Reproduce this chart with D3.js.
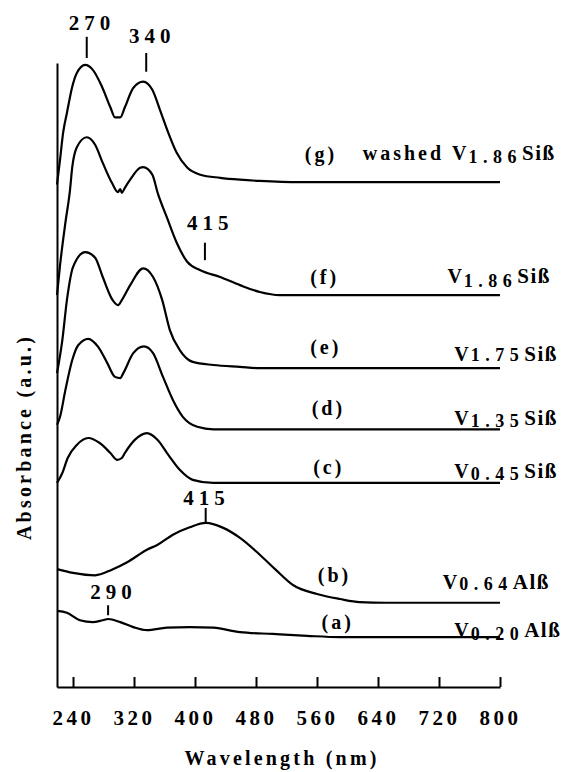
<!DOCTYPE html>
<html>
<head>
<meta charset="utf-8">
<script src="https://cdn.jsdelivr.net/npm/d3@7"></script>
<style>
  body { margin: 0; background: #fff; }
  text { font-family: "Liberation Serif", "Times New Roman", serif; font-weight: bold; fill: #000; }
</style>
</head>
<body>
<svg id="chart" width="566" height="772"></svg>
<script>
// wavelength (nm) vs absorbance (a.u., curves stacked with offsets)
const wavelengthTicks = [240, 320, 400, 480, 560, 640, 720, 800];

const specA = [[219,1.22],[232,1.19],[249,1.07],[266,1.04],[279,1.07],[286,1.09],[302,1.04],[319,0.96],[337,0.91],[363,0.95],[393,0.96],[424,0.95],[459,0.88],[502,0.85],[547,0.82],[590,0.80],[800,0.80]];
const specB = [[219,1.89],[240,1.83],[269,1.79],[291,1.88],[311,2.00],[337,2.20],[351,2.28],[371,2.44],[393,2.56],[414,2.63],[437,2.55],[459,2.39],[485,2.12],[505,1.89],[529,1.63],[560,1.49],[590,1.41],[616,1.36],[650,1.35],[800,1.35]];
const specC = [[219,3.27],[226,3.43],[233,3.67],[245,3.88],[260,3.99],[275,3.91],[289,3.75],[298,3.64],[304,3.67],[308,3.75],[321,3.96],[337,4.07],[351,3.96],[365,3.72],[380,3.48],[397,3.32],[424,3.27],[800,3.27]];
const specD = [[219,4.20],[223,4.33],[230,4.76],[239,5.24],[247,5.48],[260,5.58],[273,5.45],[285,5.19],[295,4.97],[302,4.95],[306,5.03],[319,5.35],[333,5.46],[345,5.35],[358,4.97],[371,4.60],[384,4.33],[403,4.17],[424,4.13],[800,4.13]];
const specE = [[219,5.03],[226,5.56],[232,6.20],[240,6.73],[256,6.97],[269,6.88],[279,6.57],[292,6.20],[299,6.12],[304,6.20],[315,6.44],[332,6.71],[345,6.57],[357,6.20],[367,5.72],[380,5.40],[397,5.21],[424,5.16],[459,5.13],[485,5.11],[800,5.11]];
const specF = [[219,6.28],[223,6.76],[230,7.44],[236,7.96],[239,8.33],[245,8.65],[258,8.81],[269,8.69],[279,8.40],[291,8.08],[299,7.93],[302,7.98],[304,7.92],[308,8.00],[315,8.13],[328,8.32],[332,8.33],[344,8.21],[351,7.92],[363,7.53],[376,7.12],[390,6.81],[407,6.68],[433,6.57],[459,6.44],[485,6.33],[511,6.28],[800,6.28]];
const specG = [[219,8.05],[223,8.45],[227,8.88],[232,9.20],[239,9.62],[245,9.84],[256,9.97],[266,9.89],[278,9.62],[289,9.29],[295,9.13],[302,9.13],[308,9.29],[319,9.60],[332,9.70],[344,9.57],[354,9.25],[365,8.88],[376,8.56],[390,8.32],[407,8.21],[433,8.16],[459,8.13],[485,8.11],[538,8.09],[800,8.09]];

const spectra = [specA, specB, specC, specD, specE, specF, specG];
const curveLetters = ["(a)", "(b)", "(c)", "(d)", "(e)", "(f)", "(g)"];
const samplePrefix = ["", "", "", "", "", "", "washed "];
const sampleMain = ["V", "V", "V", "V", "V", "V", "V"];
const sampleSub = ["0.20", "0.64", "0.45", "1.35", "1.75", "1.86", "1.86"];
const sampleTail = ["Alß", "Alß", "Siß", "Siß", "Siß", "Siß", "Siß"];

// peak markers
const peakLabels = ["270", "340", "415", "415", "290"];
const peakNm = [258, 336, 413, 414, 286];
const peakLabelNm = [265, 344, 420, 415, 293];
const peakTickLow = [10.08, 9.86, 6.84, 2.64, 1.15];
const peakTickHigh = [10.42, 10.16, 7.12, 2.87, 1.31];
const peakLabelAt = [10.53, 10.32, 7.32, 2.92, 1.41];

// label layout (px offsets from each curve's flat tail)
const letterNm = [566, 561, 555, 553, 551, 551, 544];
const letterDy = [-8, -21, -9, -14, -14, -11, -21];
const nameNm = [740, 725, 740, 740, 740, 731, 620];
const nameDy = [0, -14, -5, -4, -7, -12, -22];
const subShift = [3, 1, 2, 2, 0, 4, 3];

const svg = d3.select("#chart");

const x = d3.scaleLinear().domain([219, 800]).range([57, 500]);
const y = d3.scaleLinear().domain([0, 10]).range([687, 63]);

// axes
const xAxis = svg.append("g")
    .attr("transform", "translate(0," + y(0) + ")")
    .call(d3.axisBottom(x).tickValues(wavelengthTicks).tickSizeInner(-10).tickSizeOuter(0).tickFormat(d3.format("d")));
xAxis.select(".domain").attr("stroke", "#000").attr("stroke-width", 2);
xAxis.selectAll(".tick line").attr("stroke", "#000").attr("stroke-width", 2);
xAxis.selectAll(".tick text")
    .attr("y", 38)
    .attr("dy", 0)
    .attr("font-size", 21)
    .attr("font-family", "Liberation Serif")
    .attr("font-weight", "bold")
    .attr("letter-spacing", 3.5)
    .attr("fill", "#000");

const yAxis = svg.append("g")
    .attr("transform", "translate(" + x(219) + ",0)")
    .call(d3.axisLeft(y).tickValues([]).tickSizeOuter(0));
yAxis.select(".domain").attr("stroke", "#000").attr("stroke-width", 2);

svg.append("text")
    .attr("x", 282)
    .attr("y", 765)
    .attr("text-anchor", "middle")
    .attr("font-size", 20)
    .attr("letter-spacing", 3.2)
    .text("Wavelength  (nm)");

svg.append("text")
    .attr("transform", "translate(31,437) rotate(-90)")
    .attr("text-anchor", "middle")
    .attr("font-size", 20)
    .attr("letter-spacing", 3.2)
    .text("Absorbance  (a.u.)");

// spectra
const line = d3.line()
    .x(d => x(d[0]))
    .y(d => y(d[1]))
    .curve(d3.curveMonotoneX);

svg.selectAll(".spec")
    .data(spectra)
    .enter()
    .append("path")
    .attr("class", "spec")
    .attr("d", line)
    .attr("fill", "none")
    .attr("stroke", "#000")
    .attr("stroke-width", 2.2)
    .attr("stroke-linejoin", "round");

// peak markers
peakLabels.forEach((lab, i) => {
    svg.append("line")
        .attr("x1", x(peakNm[i])).attr("x2", x(peakNm[i]))
        .attr("y1", y(peakTickLow[i])).attr("y2", y(peakTickHigh[i]))
        .attr("stroke", "#000").attr("stroke-width", 2);
    svg.append("text")
        .attr("x", x(peakLabelNm[i]))
        .attr("y", y(peakLabelAt[i]))
        .attr("text-anchor", "middle")
        .attr("font-size", 21)
        .attr("font-weight", "normal")
        .attr("letter-spacing", 5)
        .text(lab);
});

// curve labels
spectra.forEach((s, i) => {
    const tail = y(s[s.length - 1][1]);
    svg.append("text")
        .attr("x", x(letterNm[i]))
        .attr("y", tail + letterDy[i])
        .attr("font-size", 20)
        .attr("letter-spacing", 3)
        .text(curveLetters[i]);

    const t = svg.append("text")
        .attr("x", x(nameNm[i]))
        .attr("y", tail + nameDy[i])
        .attr("font-size", 20);
    if (samplePrefix[i]) {
        t.append("tspan").attr("letter-spacing", 3).text(samplePrefix[i]);
    }
    t.append("tspan").attr("letter-spacing", 2).text(sampleMain[i]);
    t.append("tspan")
        .attr("dy", subShift[i])
        .attr("font-size", 18)
        .attr("letter-spacing", 5.5)
        .text(sampleSub[i]);
    t.append("tspan")
        .attr("dy", -subShift[i])
        .attr("font-size", 21)
        .attr("letter-spacing", 1.5)
        .text(sampleTail[i]);
});
</script>
</body>
</html>
